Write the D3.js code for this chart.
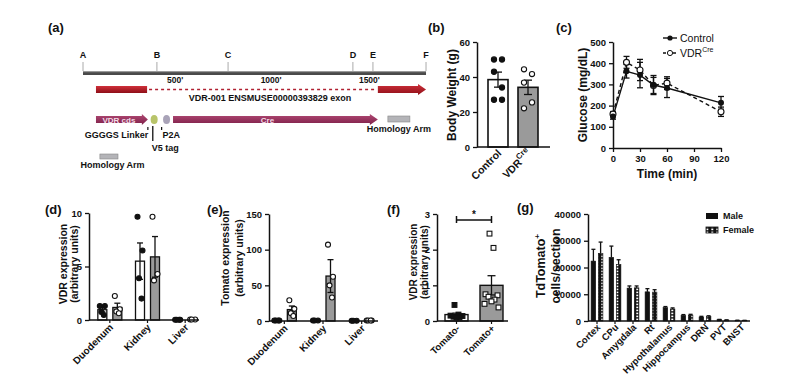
<!DOCTYPE html>
<html>
<head>
<meta charset="utf-8">
<script src="https://cdn.jsdelivr.net/npm/d3@7"></script>
<style>
  body { margin: 0; background: #fff; }
  text { font-family: "Liberation Sans", Arial, sans-serif; font-weight: bold; fill: #111; }
</style>
</head>
<body>
<div id="fig"></div>
<script>
// ---------- data ----------
// (a) construct map, positions in bp
var mapLetters = ["A", "B", "C", "D", "E", "F"];
var mapLetterBp = [0, 376, 738, 1373, 1475, 1745];
var mapTicks = [500, 1000, 1500];
var exonStart = [66, 1500];
var exonEnd = [326, 1745];
var cdsStart = 66, cdsEnd = 330;
var creStart = 458, creEnd = 1500;
var armStart = 1551, armEnd = 1663;

// (b) body weight
var bwGroups = ["Control", "VDRCre"];
var bwMean = [38.5, 34.1];
var bwSem = [4.3, 4.1];
var bwControlPts = [50, 50, 43, 34, 27, 27];
var bwCrePts = [44.4, 41.7, 36.8, 25.5, 22.1];

// (c) glucose tolerance
var gttTime = [0, 15, 30, 45, 60, 120];
var gttControl = [148, 362, 344, 297, 283, 213];
var gttControlErr = [12, 32, 60, 45, 45, 30];
var gttCre = [160, 404, 368, 295, 306, 171];
var gttCreErr = [12, 28, 50, 38, 30, 22];

// (d) VDR expression by organ
var organs = ["Duodenum", "Kidney", "Liver"];
var vdrCtrlMean = [0.96, 5.5, 0.03];
var vdrCtrlSem = [0.2, 1.7, 0.01];
var vdrCreMean = [1.17, 5.9, 0.04];
var vdrCreSem = [0.4, 1.9, 0.01];
var vdrCtrlPts = [[1.3, 1.3, 0.75, 0.47], [9.65, 6.5, 3.9, 2.0], [0.03, 0.03, 0.03, 0.03]];
var vdrCrePts = [[2.24, 1.0, 0.8, 0.63], [9.65, 4.3, 3.7], [0.04, 0.04, 0.04]];

// (e) Tomato expression by organ
var tomCtrlMean = [0.6, 0.6, 0.4];
var tomCtrlSem = [0.1, 0.1, 0.1];
var tomCreMean = [16, 63, 0.6];
var tomCreSem = [5, 23, 0.2];
var tomCtrlPts = [[0.6, 0.6, 0.6, 0.6], [0.6, 0.6, 0.6], [0.4, 0.4, 0.4]];
var tomCrePts = [[29, 17, 11, 7], [107, 62, 50, 33], [0.6, 0.6, 0.6, 0.6]];

// (f) VDR in sorted cells
var sortGroups = ["Tomato-", "Tomato+"];
var sortMean = [0.18, 1.0];
var sortSem = [0.04, 0.27];
var sortNegPts = [0.45, 0.18, 0.15, 0.14, 0.12, 0.1, 0.1];
var sortPosPts = [2.45, 2.05, 0.75, 0.72, 0.68, 0.6, 0.55, 0.48, 0.38];

// (g) tdTomato+ cells per region
var regions = ["Cortex", "CPu", "Amygdala", "Rt", "Hypothalamus", "Hippocampus", "DRN", "PVT", "BNST"];
var maleMean = [22400, 23800, 12300, 10900, 5000, 2100, 1500, 500, 250];
var maleSem = [4400, 4200, 800, 1200, 400, 300, 250, 100, 50];
var femaleMean = [25300, 21100, 12400, 10800, 4500, 2200, 1700, 350, 200];
var femaleSem = [4200, 1800, 700, 900, 400, 300, 250, 80, 50];

// ---------- drawing ----------
var svg = d3.select("#fig").append("svg")
  .attr("width", 800).attr("height", 391);

var defs = svg.append("defs");
// checkered fill for the female bars
var pat = defs.append("pattern").attr("id", "chk")
  .attr("patternUnits", "userSpaceOnUse").attr("width", 5).attr("height", 3);
pat.append("rect").attr("width", 5).attr("height", 3).attr("fill", "#111");
pat.append("rect").attr("x", 1.3).attr("y", 0.6).attr("width", 2).attr("height", 1.6).attr("fill", "#fff");

var exGrad = defs.append("linearGradient").attr("id", "exg").attr("x1", 0).attr("y1", 0).attr("x2", 0).attr("y2", 1);
exGrad.append("stop").attr("offset", "0").attr("stop-color", "#d0303a");
exGrad.append("stop").attr("offset", "1").attr("stop-color", "#8e0f18");
var creGrad = defs.append("linearGradient").attr("id", "creg").attr("x1", 0).attr("y1", 0).attr("x2", 0).attr("y2", 1);
creGrad.append("stop").attr("offset", "0").attr("stop-color", "#b24a75");
creGrad.append("stop").attr("offset", "1").attr("stop-color", "#7d1f48");

function panelLabel(txt, x, y) {
  svg.append("text").attr("x", x).attr("y", y).style("font-size", "13px").text(txt);
}

function styleAxis(g) {
  g.selectAll("path.domain").attr("stroke", "#111").attr("stroke-width", 1.5);
  g.selectAll(".tick line").attr("stroke", "#111").attr("stroke-width", 1.3);
  g.selectAll(".tick text").style("font-size", "9.5px").style("font-family", "Liberation Sans, Arial").style("font-weight", "bold").attr("fill", "#111");
}

// rotated axis title, one <text> per line so lines never collide
function yTitle(lines, x, y, size, gap) {
  lines.forEach(function (l, i) {
    var t = svg.append("text").attr("transform", "translate(" + (x + i * gap) + "," + y + ") rotate(-90)")
      .attr("text-anchor", "middle").style("font-size", size + "px");
    if (typeof l === "object") {
      t.append("tspan").text(l.txt);
      t.append("tspan").attr("dy", -5).style("font-size", (size * 0.65) + "px").text(l.sup);
    } else {
      t.text(l);
    }
  });
}

function errBar(g, x, y0, y1, cap, col) {
  g.append("line").attr("x1", x).attr("x2", x).attr("y1", y0).attr("y2", y1).attr("stroke", col || "#111").attr("stroke-width", 1.3);
  g.append("line").attr("x1", x - cap).attr("x2", x + cap).attr("y1", y1).attr("y2", y1).attr("stroke", col || "#111").attr("stroke-width", 1.3);
}

function rotLabels(g, scale, keys, y, size) {
  keys.forEach(function (k) {
    var t = g.append("text")
      .attr("transform", "translate(" + (scale(k) + 4) + "," + y + ") rotate(-45)")
      .attr("text-anchor", "end").style("font-size", size + "px");
    if (k == "VDRCre") {
      t.append("tspan").text("VDR");
      t.append("tspan").attr("dy", -5).style("font-size", "8px").text("Cre");
    } else t.text(k);
  });
}

// ===== (a) =====
panelLabel("(a)", 48, 32);
var ga = svg.append("g");
var xa = d3.scaleLinear().domain([0, 1750]).range([83, 427]);
ga.append("rect").attr("x", xa(0)).attr("y", 71).attr("width", xa(1745) - xa(0)).attr("height", 4).attr("fill", "#4a4a4a");
ga.append("rect").attr("x", xa(0)).attr("y", 71).attr("width", xa(1745) - xa(0)).attr("height", 1.2).attr("fill", "#999");
mapLetterBp.forEach(function (bp, i) {
  ga.append("line").attr("x1", xa(bp)).attr("x2", xa(bp)).attr("y1", 62).attr("y2", 71).attr("stroke", "#aaa").attr("stroke-width", 1);
  ga.append("text").attr("x", xa(bp)).attr("y", 58).attr("text-anchor", "middle").style("font-size", "9px").text(mapLetters[i]);
});
mapTicks.forEach(function (t) {
  ga.append("text").attr("x", xa(t) + 2).attr("y", 83).attr("text-anchor", "end").style("font-size", "8.5px").text(t + "'");
});
// exon row
var ey = 86, eh = 7;
ga.append("rect").attr("x", xa(exonStart[0])).attr("y", ey).attr("width", xa(exonEnd[0]) - xa(exonStart[0])).attr("height", eh).attr("fill", "url(#exg)");
ga.append("line").attr("x1", xa(exonEnd[0]) + 2).attr("x2", xa(exonStart[1]) - 2).attr("y1", ey + eh / 2).attr("y2", ey + eh / 2)
  .attr("stroke", "#b02030").attr("stroke-width", 1.6).attr("stroke-dasharray", "3,3");
function arrowPath(x0, x1, y, h, head) {
  return "M" + x0 + "," + y + "H" + (x1 - head) + "V" + (y - 2) + "L" + x1 + "," + (y + h / 2) +
    "L" + (x1 - head) + "," + (y + h + 2) + "V" + (y + h) + "H" + x0 + "Z";
}
ga.append("path").attr("d", arrowPath(xa(exonStart[1]), xa(exonEnd[1]), ey, eh, 8)).attr("fill", "url(#exg)");
ga.append("text").attr("x", xa(951)).attr("y", 101).attr("text-anchor", "middle").style("font-size", "9px").text("VDR-001 ENSMUSE00000393829 exon");
// construct row
var cy = 116, ch = 7;
ga.append("path").attr("d", arrowPath(xa(cdsStart), xa(cdsEnd), cy, ch, 6)).attr("fill", "url(#creg)");
ga.append("text").attr("x", (xa(cdsStart) + xa(cdsEnd)) / 2 - 3).attr("y", cy + 6.5).attr("text-anchor", "middle").style("font-size", "8px").style("fill", "#f3dbe6").text("VDR cds");
ga.append("ellipse").attr("cx", xa(362)).attr("cy", cy + 3.5).attr("rx", 3.5).attr("ry", 4.5).attr("fill", "#b8c46a");
ga.append("ellipse").attr("cx", xa(425)).attr("cy", cy + 3.5).attr("rx", 3.5).attr("ry", 4.5).attr("fill", "#a9a3b8");
ga.append("path").attr("d", arrowPath(xa(creStart), xa(creEnd), cy, ch, 8)).attr("fill", "url(#creg)");
ga.append("text").attr("x", (xa(creStart) + xa(creEnd)) / 2 - 8).attr("y", cy + 6.5).attr("text-anchor", "middle").style("font-size", "8px").style("fill", "#f3dbe6").text("Cre");
ga.append("rect").attr("x", xa(armStart)).attr("y", cy).attr("width", xa(armEnd) - xa(armStart)).attr("height", 6).attr("fill", "#b4b4b8").attr("stroke", "#888").attr("stroke-width", 0.6);
ga.append("text").attr("x", (xa(armStart) + xa(armEnd)) / 2).attr("y", 132).attr("text-anchor", "middle").style("font-size", "9px").text("Homology Arm");
// construct annotations
ga.append("line").attr("x1", xa(330)).attr("x2", xa(330)).attr("y1", 127).attr("y2", 130).attr("stroke", "#111").attr("stroke-width", 1.2);
ga.append("line").attr("x1", xa(355)).attr("x2", xa(355)).attr("y1", 126).attr("y2", 141).attr("stroke", "#111").attr("stroke-width", 1.3);
ga.append("line").attr("x1", xa(400)).attr("x2", xa(400)).attr("y1", 127).attr("y2", 130).attr("stroke", "#111").attr("stroke-width", 1.2);
ga.append("text").attr("x", xa(170)).attr("y", 138).attr("text-anchor", "middle").style("font-size", "9px").text("GGGGS Linker");
ga.append("text").attr("x", xa(405)).attr("y", 138).style("font-size", "9px").text("P2A");
ga.append("text").attr("x", xa(350)).attr("y", 151).style("font-size", "9px").text("V5 tag");
ga.append("rect").attr("x", xa(86)).attr("y", 154).attr("width", xa(178) - xa(86)).attr("height", 5).attr("fill", "#b4b4b8").attr("stroke", "#888").attr("stroke-width", 0.6);
ga.append("text").attr("x", xa(150)).attr("y", 168).attr("text-anchor", "middle").style("font-size", "9px").text("Homology Arm");

// ===== (b) =====
panelLabel("(b)", 428, 32);
var gb = svg.append("g");
var yb = d3.scaleLinear().domain([0, 60]).range([147, 42]);
var xb = d3.scalePoint().domain(bwGroups).range([498, 528]);
var bwW = 20;
gb.append("g").attr("transform", "translate(477,0)").call(d3.axisLeft(yb).tickValues([0, 20, 40, 60]).tickSize(4).tickSizeOuter(0)).call(styleAxis);
bwGroups.forEach(function (k, i) {
  var cx = xb(k);
  gb.append("rect").attr("x", cx - bwW / 2).attr("y", yb(bwMean[i])).attr("width", bwW).attr("height", yb(0) - yb(bwMean[i]))
    .attr("fill", i == 0 ? "#fff" : "#9a9a9a").attr("stroke", "#111").attr("stroke-width", 1.6);
  errBar(gb, cx, yb(bwMean[i]), yb(bwMean[i] + bwSem[i]), 4);
  errBar(gb, cx, yb(bwMean[i]), yb(bwMean[i] - bwSem[i]), 4);
  var pts = i == 0 ? bwControlPts : bwCrePts;
  pts.forEach(function (v, j) {
    var off = (j % 2 == 0 ? -4 : 4);
    gb.append("circle").attr("cx", cx + off).attr("cy", yb(v)).attr("r", 2.6)
      .attr("fill", i == 0 ? "#111" : "#fff").attr("stroke", "#111").attr("stroke-width", 1.1);
  });
});
gb.append("line").attr("x1", 477).attr("x2", 550).attr("y1", yb(0)).attr("y2", yb(0)).attr("stroke", "#111").attr("stroke-width", 1.5);
rotLabels(gb, xb, bwGroups, 154, 10.5);
yTitle(["Body Weight (g)"], 456, 95, 12, 0);

// ===== (c) =====
panelLabel("(c)", 556, 32);
var gc = svg.append("g");
var yc = d3.scaleLinear().domain([0, 500]).range([148, 42]);
var xc = d3.scaleLinear().domain([0, 120]).range([613, 721]);
gc.append("g").attr("transform", "translate(613,0)").call(d3.axisLeft(yc).ticks(5).tickSize(4).tickSizeOuter(0)).call(styleAxis);
gc.append("g").attr("transform", "translate(0,148)").call(d3.axisBottom(xc).tickValues([0, 30, 60, 90, 120]).tickSize(4).tickSizeOuter(0)).call(styleAxis);
var lineC = d3.line().x(function (d) { return xc(d[0]); }).y(function (d) { return yc(d[1]); });
var ctrlData = d3.zip(gttTime, gttControl);
var creData = d3.zip(gttTime, gttCre);
gc.append("path").datum(creData).attr("d", lineC).attr("fill", "none").attr("stroke", "#111").attr("stroke-width", 1.4).attr("stroke-dasharray", "4,3");
gc.append("path").datum(ctrlData).attr("d", lineC).attr("fill", "none").attr("stroke", "#111").attr("stroke-width", 1.4);
gttTime.forEach(function (t, i) {
  [[gttControl, gttControlErr], [gttCre, gttCreErr]].forEach(function (s) {
    errBar(gc, xc(t), yc(s[0][i]), yc(s[0][i] + s[1][i]), 3);
    errBar(gc, xc(t), yc(s[0][i]), yc(s[0][i] - s[1][i]), 3);
  });
  gc.append("circle").attr("cx", xc(t)).attr("cy", yc(gttCre[i])).attr("r", 3).attr("fill", "#fff").attr("stroke", "#111").attr("stroke-width", 1.1);
  gc.append("circle").attr("cx", xc(t)).attr("cy", yc(gttControl[i])).attr("r", 3).attr("fill", "#111");
});
// legend
gc.append("line").attr("x1", 663).attr("x2", 677).attr("y1", 38).attr("y2", 38).attr("stroke", "#111").attr("stroke-width", 1.4);
gc.append("circle").attr("cx", 670).attr("cy", 38).attr("r", 2.6).attr("fill", "#111");
gc.append("text").attr("x", 680).attr("y", 42).style("font-size", "10.5px").style("font-weight", "normal").text("Control");
gc.append("line").attr("x1", 663).attr("x2", 677).attr("y1", 53).attr("y2", 53).attr("stroke", "#111").attr("stroke-width", 1.4).attr("stroke-dasharray", "3,2");
gc.append("circle").attr("cx", 670).attr("cy", 53).attr("r", 2.6).attr("fill", "#fff").attr("stroke", "#111");
var lt = gc.append("text").attr("x", 680).attr("y", 57).style("font-size", "10.5px").style("font-weight", "normal");
lt.append("tspan").text("VDR");
lt.append("tspan").attr("dy", -5).style("font-size", "7px").text("Cre");
gc.append("text").attr("x", 667).attr("y", 178).attr("text-anchor", "middle").style("font-size", "12px").text("Time (min)");
yTitle(["Glucose (mg/dL)"], 587, 95, 12, 0);

// grouped bar panels (d) and (e)
function organPanel(cfg) {
  var g = svg.append("g");
  var y = d3.scaleLinear().domain(cfg.domain).range([cfg.y0, cfg.y1]);
  var x = d3.scaleBand().domain(organs).range(cfg.xr);
  var sub = d3.scalePoint().domain(["ctrl", "cre"]).range([-7.5, 7.5]);
  g.append("g").attr("transform", "translate(" + cfg.ax + ",0)").call(d3.axisLeft(y).tickValues(cfg.ticks).tickFormat(d3.format("d")).tickSize(4).tickSizeOuter(0)).call(styleAxis);
  organs.forEach(function (o, i) {
    var c = x(o) + x.bandwidth() / 2;
    [["ctrl", cfg.cm, cfg.cs, cfg.cp], ["cre", cfg.km, cfg.ks, cfg.kp]].forEach(function (s) {
      var bx = c + sub(s[0]);
      var m = s[1][i];
      g.append("rect").attr("x", bx - 4.5).attr("y", y(m)).attr("width", 9).attr("height", Math.max(0, cfg.y0 - y(m)))
        .attr("fill", s[0] == "ctrl" ? "#fff" : "#9a9a9a").attr("stroke", "#111").attr("stroke-width", 1.3);
      errBar(g, bx, y(m), y(m + s[2][i]), 3);
      errBar(g, bx, y(m), y(Math.max(0, m - s[2][i])), 3);
      s[3][i].forEach(function (v, j) {
        var off = [-2.5, 2.5, -1, 1.5][j % 4];
        g.append("circle").attr("cx", bx + off).attr("cy", y(v)).attr("r", 2.5)
          .attr("fill", s[0] == "ctrl" ? "#111" : "#fff").attr("stroke", "#111").attr("stroke-width", 1.1);
      });
    });
  });
  g.append("line").attr("x1", cfg.ax).attr("x2", cfg.xend).attr("y1", cfg.y0).attr("y2", cfg.y0).attr("stroke", "#111").attr("stroke-width", 1.5);
  var xc2 = function (o) { return x(o) + x.bandwidth() / 2; };
  organs.forEach(function (o) {
    g.append("line").attr("x1", xc2(o)).attr("x2", xc2(o)).attr("y1", cfg.y0).attr("y2", cfg.y0 + 3).attr("stroke", "#111").attr("stroke-width", 1.2);
  });
  rotLabels(g, xc2, organs, cfg.y0 + 8, 10);
}

panelLabel("(d)", 45, 214);
organPanel({
  domain: [0, 10], y0: 320, y1: 213, ax: 89, xr: [91, 204], xend: 199, ticks: [0, 5, 10],
  cm: vdrCtrlMean, cs: vdrCtrlSem, cp: vdrCtrlPts, km: vdrCreMean, ks: vdrCreSem, kp: vdrCrePts
});
yTitle(["VDR expression", "(arbitrary units)"], 67, 264, 10.5, 11);

panelLabel("(e)", 207, 214);
organPanel({
  domain: [0, 150], y0: 321, y1: 214, ax: 269, xr: [265, 381], xend: 378, ticks: [0, 50, 100, 150],
  cm: tomCtrlMean, cs: tomCtrlSem, cp: tomCtrlPts, km: tomCreMean, ks: tomCreSem, kp: tomCrePts
});
yTitle(["Tomato expression", "(arbitrary units)"], 229, 258, 10.5, 13.5);

// ===== (f) =====
panelLabel("(f)", 387, 214);
var gf = svg.append("g");
var yf = d3.scaleLinear().domain([0, 3]).range([321, 214]);
var xf = d3.scalePoint().domain(sortGroups).range([456.5, 491.5]);
gf.append("g").attr("transform", "translate(437,0)").call(d3.axisLeft(yf).tickValues([0, 1, 2, 3]).tickFormat(d3.format("d")).tickSize(4).tickSizeOuter(0)).call(styleAxis);
sortGroups.forEach(function (k, i) {
  var cx = xf(k);
  gf.append("rect").attr("x", cx - 11.5).attr("y", yf(sortMean[i])).attr("width", 23).attr("height", 321 - yf(sortMean[i]))
    .attr("fill", i == 0 ? "#fff" : "#9a9a9a").attr("stroke", "#111").attr("stroke-width", 1.4);
  errBar(gf, cx, yf(sortMean[i]), yf(sortMean[i] + sortSem[i]), 4);
  errBar(gf, cx, yf(sortMean[i]), yf(sortMean[i] - sortSem[i]), 4);
  var pts = i == 0 ? sortNegPts : sortPosPts;
  pts.forEach(function (v, j) {
    var off = [-2, 2, -6, 6, -3, 3, 0, -7, 7][j % 9];
    gf.append("rect").attr("x", cx + off - 2.4).attr("y", yf(v) - 2.4).attr("width", 4.8).attr("height", 4.8)
      .attr("fill", i == 0 ? "#111" : "#fff").attr("stroke", "#111").attr("stroke-width", 1.1);
  });
});
gf.append("line").attr("x1", 437).attr("x2", 508).attr("y1", 321).attr("y2", 321).attr("stroke", "#111").attr("stroke-width", 1.5);
sortGroups.forEach(function (k) {
  gf.append("line").attr("x1", xf(k)).attr("x2", xf(k)).attr("y1", 321).attr("y2", 324).attr("stroke", "#111").attr("stroke-width", 1.2);
});
// significance bracket
gf.append("path").attr("d", "M" + xf("Tomato-") + ",216V223M" + xf("Tomato-") + ",220H" + xf("Tomato+") + "M" + xf("Tomato+") + ",216V223")
  .attr("stroke", "#111").attr("stroke-width", 1.5).attr("fill", "none");
gf.append("text").attr("x", (xf("Tomato-") + xf("Tomato+")) / 2).attr("y", 218).attr("text-anchor", "middle").style("font-size", "10px").text("*");
rotLabels(gf, xf, sortGroups, 329, 9.5);
yTitle(["VDR expression", "(arbitrary units)"], 417, 262, 10, 10.5);

// ===== (g) =====
panelLabel("(g)", 517, 212);
var gg = svg.append("g");
var yg = d3.scaleLinear().domain([0, 40000]).range([321, 214]);
var xg = d3.scaleBand().domain(regions).range([588, 750]);
var sg = d3.scalePoint().domain(["male", "female"]).range([-3.6, 3.6]);
gg.append("g").attr("transform", "translate(588,0)").call(d3.axisLeft(yg).tickValues([0, 10000, 20000, 30000, 40000]).tickFormat(d3.format("d")).tickSize(4).tickSizeOuter(0)).call(styleAxis);
regions.forEach(function (r, i) {
  var c = xg(r) + xg.bandwidth() / 2;
  [["male", maleMean, maleSem], ["female", femaleMean, femaleSem]].forEach(function (s) {
    var bx = c + sg(s[0]);
    errBar(gg, bx, yg(s[1][i]), yg(s[1][i] + s[2][i]), 2);
    gg.append("rect").attr("x", bx - 2.3).attr("y", yg(s[1][i])).attr("width", 4.6).attr("height", 321 - yg(s[1][i]))
      .attr("fill", s[0] == "male" ? "#111" : "url(#chk)").attr("stroke", "#111").attr("stroke-width", 0.6);
  });
});
gg.append("line").attr("x1", 588).attr("x2", 750).attr("y1", 321).attr("y2", 321).attr("stroke", "#111").attr("stroke-width", 1.5);
var xgc = function (r) { return xg(r) + xg.bandwidth() / 2; };
regions.forEach(function (r) {
  gg.append("line").attr("x1", xgc(r)).attr("x2", xgc(r)).attr("y1", 321).attr("y2", 324).attr("stroke", "#111").attr("stroke-width", 1.2);
});
rotLabels(gg, xgc, regions, 328, 9.5);
// legend
gg.append("rect").attr("x", 706).attr("y", 213).attr("width", 12).attr("height", 6).attr("fill", "#111");
gg.append("text").attr("x", 723).attr("y", 219).style("font-size", "9px").text("Male");
gg.append("rect").attr("x", 706).attr("y", 227).attr("width", 12).attr("height", 6).attr("fill", "url(#chk)").attr("stroke", "#111").attr("stroke-width", 0.8);
gg.append("text").attr("x", 723).attr("y", 233).style("font-size", "9px").text("Female");
yTitle([{ txt: "TdTomato", sup: "+" }, "cells/section"], 545, 266, 12.5, 14.5);
</script>
</body>
</html>
